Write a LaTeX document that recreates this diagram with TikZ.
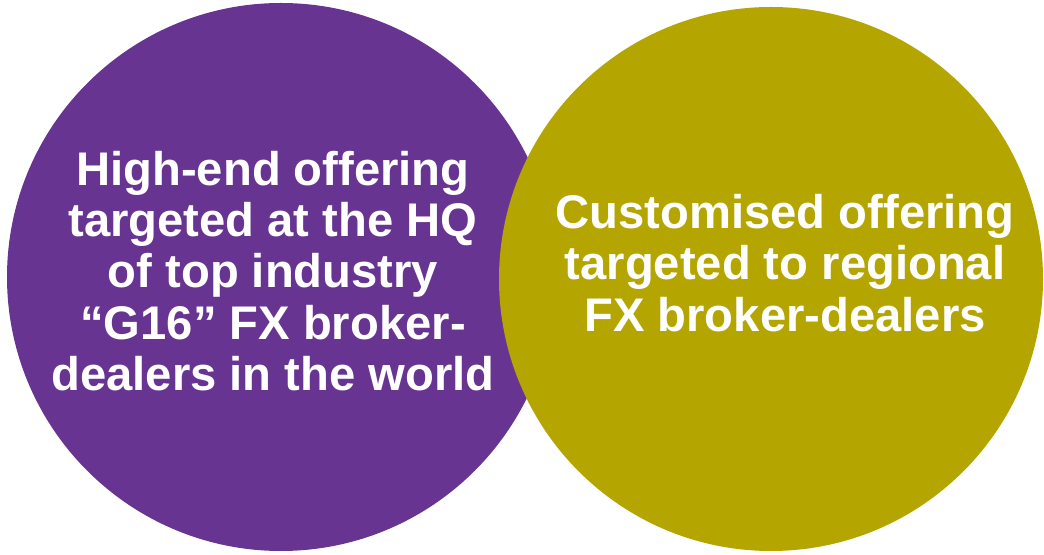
\documentclass[tikz,border=0pt]{standalone}
\usepackage{fontspec}
\setmainfont{Liberation Sans}
\usepackage{tikz}

\definecolor{hqpurple}{RGB}{103,53,145}
\definecolor{regiongold}{RGB}{181,165,0}

\begin{document}
\begin{tikzpicture}[x=0.5pt,y=-0.5pt]
    \tikzset{
        blob/.style={circle, inner sep=0pt, draw=none},
        blurb/.style={text=white, align=center, inner sep=0pt,
            font=\fontsize{23.6}{25.6}\selectfont\bfseries}
    }
    \useasboundingbox (0,0) rectangle (1044,555);
        %draw the two circles
    \node[blob, fill=hqpurple, minimum size=274pt] (hq) at (281,277) {};
    \node[blob, fill=regiongold, minimum size=272pt] (regional) at (771,279) {};
        %draw texts
    \node[blurb] (hqtext) at (273,271) {High-end offering\\
    targeted at the HQ\\
    of top industry\\
    ``G16'' FX broker-\\
    dealers in the world};
    \node[blurb] (regionaltext) at (785,263) {Customised offering\\
    targeted to regional\\
    FX broker-dealers};
\end{tikzpicture}
\end{document}
